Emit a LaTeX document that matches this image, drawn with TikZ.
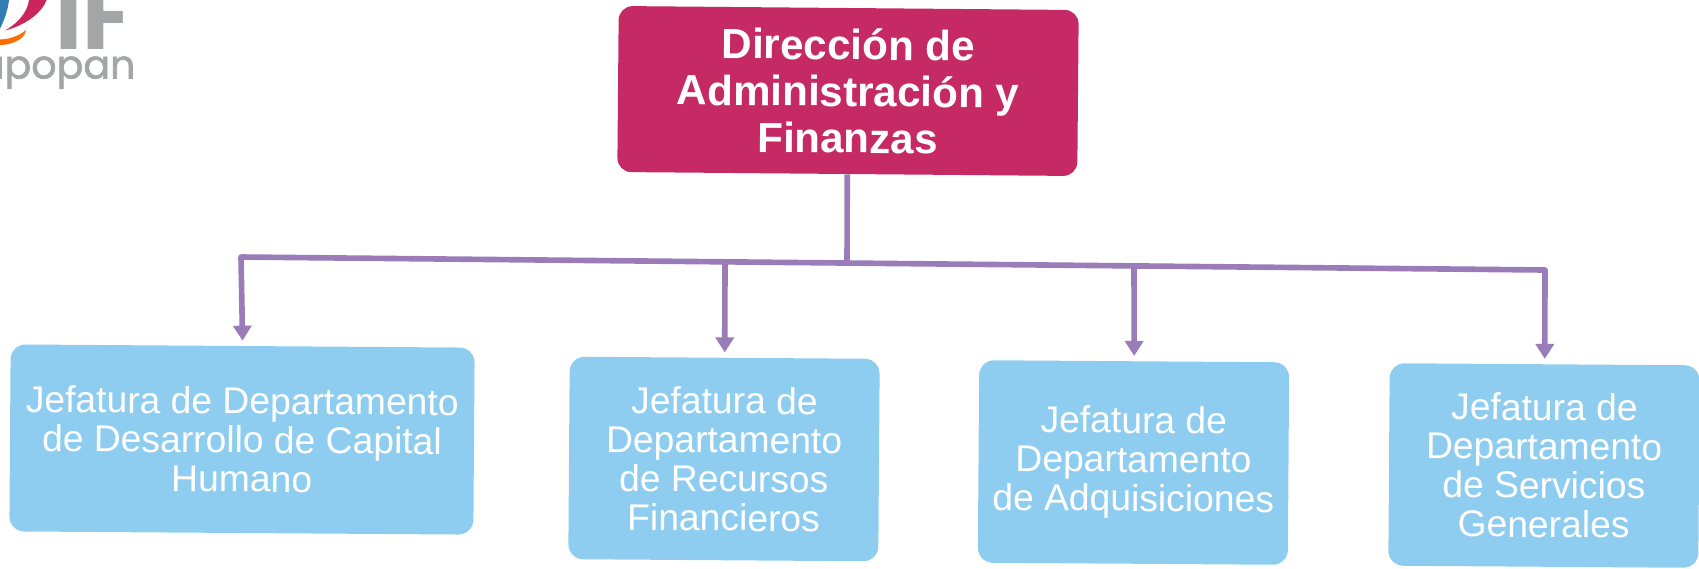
\documentclass[tikz,border=0pt]{standalone}
\usepackage{fontspec}
\setmainfont{Liberation Sans}
\newfontfamily\logofont{Poppins}
\newfontfamily\logomedio[FakeBold=1.5]{Poppins}
\usetikzlibrary{arrows.meta}

\definecolor{jefe}{HTML}{C52A65}
\definecolor{depto}{HTML}{8FCDF0}
\definecolor{linea}{HTML}{9A7DB8}
\definecolor{logogris}{HTML}{A3A5A6}

\tikzset{
    jefebox/.style={fill=jefe, text=white, rounded corners=0.28cm, rotate=-0.5, align=center,
        minimum width=9.2cm, minimum height=3.32cm, inner sep=0pt,
        font=\fontsize{24}{26.5}\selectfont\bfseries},
    deptobox/.style={fill=depto, text=white, rounded corners=0.3cm, rotate=-0.4, align=center,
        minimum width=6.2cm, minimum height=4.05cm, inner sep=0pt,
        font=\fontsize{21.2}{22.2}\selectfont},
    linea/.style={draw=linea, line width=3.2pt},
    flecha/.style={linea, shorten >=0.1cm, -{Triangle[width=0.36cm, length=0.3cm]}}
}

\begin{document}
\begin{tikzpicture}
        \useasboundingbox (0,0) rectangle (33.98,-11.36);

        % Logo
        \fill[jefe!90!red] (0.93,0) .. controls (0.82,-0.3) and (0.45,-0.52) .. (0.1,-0.61)
            .. controls (0.35,-0.47) and (0.55,-0.25) .. (0.58,0) -- cycle;
        \fill[orange!85!red] (0.52,-0.6) .. controls (0.5,-0.8) and (0.2,-0.9) .. (0,-0.9)
            -- (0,-0.79) .. controls (0.2,-0.78) and (0.38,-0.72) .. (0.52,-0.6) -- cycle;
        \fill[cyan!70!blue!80!black] (0,0) -- (0.18,0) .. controls (0.16,-0.2) and (0.08,-0.42) .. (0,-0.57) -- cycle;
        \node[text=logogris, anchor=base west, inner sep=0pt, font=\logofont\bfseries\fontsize{52}{52}\selectfont] (logoIF) at (1.11,-0.98) {IF};
        \node[text=logogris, anchor=base west, inner sep=0pt, font=\logomedio\fontsize{22.5}{22.5}\selectfont] (logoTxt) at (-0.45,-1.57) {apopan};

        % Cajas
        \node[jefebox] (DIR) at (16.96,-1.82) {Dirección de\\Administración y\\Finanzas};

        \node[deptobox, minimum width=9.28cm, minimum height=3.74cm] (J1) at (4.84,-8.79) {Jefatura de Departamento\\de Desarrollo de Capital\\Humano};
        \node[deptobox] (J2) at (14.48,-9.18) {Jefatura de\\Departamento\\de Recursos\\Financieros};
        \node[deptobox] (J3) at (22.67,-9.25) {Jefatura de\\Departamento\\de Adquisiciones};
        \node[deptobox] (J4) at (30.88,-9.31) {Jefatura de\\Departamento\\de Servicios\\Generales};

        % Puntos de la barra
        \coordinate (B1) at (4.82,-5.14);
        \coordinate (B2) at (14.5,-5.26);
        \coordinate (B3) at (22.68,-5.33);
        \coordinate (B4) at (30.9,-5.4);
        \coordinate (BC) at (16.94,-5.29);

        % Lineas
        \draw[linea] (DIR.south) -- (BC);
        \draw[linea, line cap=round] (B1) -- (B4);

        \draw[flecha] (B1) -- (J1.north);
        \draw[flecha] (B2) -- (J2.north);
        \draw[flecha] (B3) -- (J3.north);
        \draw[flecha] (B4) -- (J4.north);
    \end{tikzpicture}
\end{document}
